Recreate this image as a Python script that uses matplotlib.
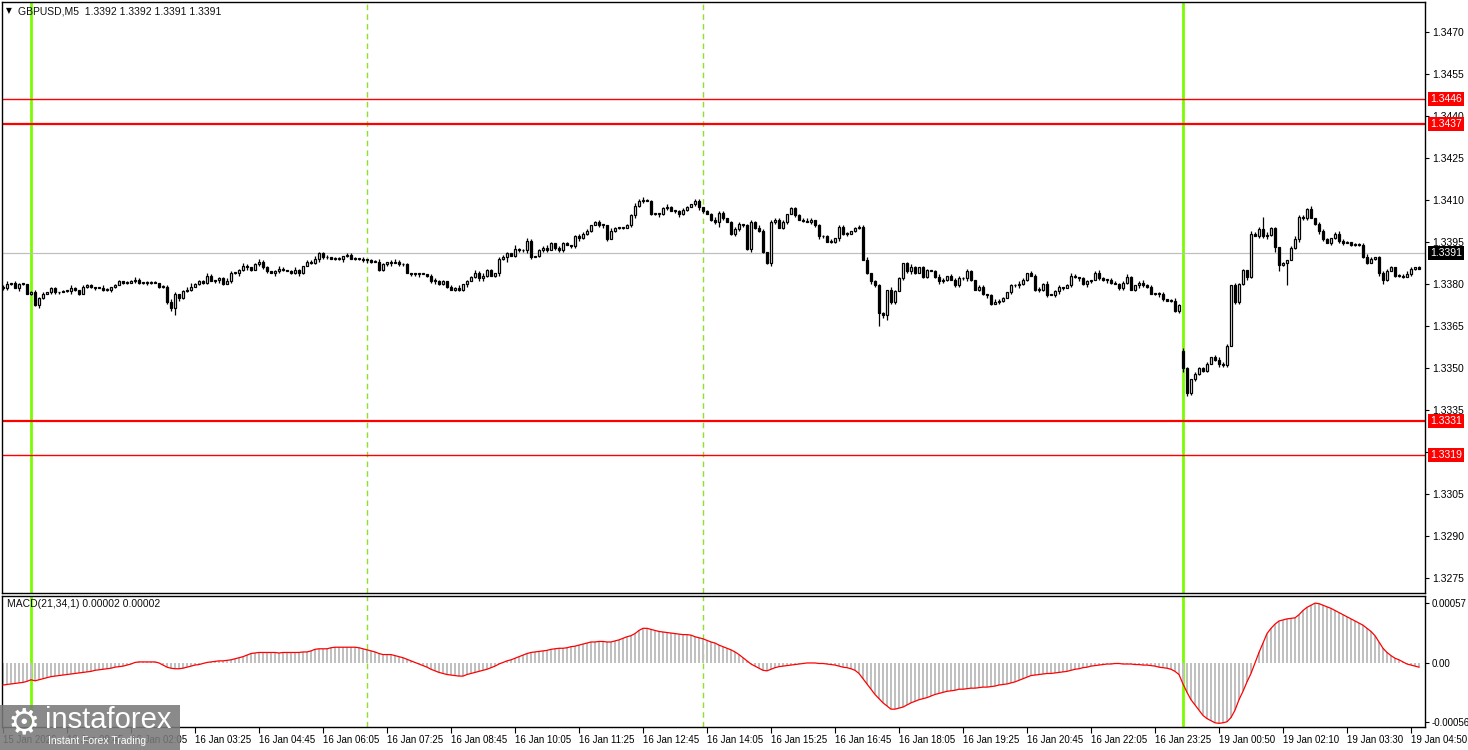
import numpy as np
import matplotlib
matplotlib.use("Agg")
import matplotlib.pyplot as plt
import matplotlib.transforms as mtransforms
from matplotlib.patches import Rectangle

plt.rcParams['font.family'] = ['Liberation Sans', 'DejaVu Sans']

# GBPUSD M5 closes, pips above 1.3300, bar 0 = 15 Jan 23:25
closes = [
    78.5, 80, 80.5, 78.5, 80, 80, 76.5, 77, 72.5, 75,
    76.5, 77, 78.5, 77, 77, 77.5, 77.5, 78.5, 78, 76.5,
    79, 79.5, 79, 78.5, 78.5, 78, 78, 79, 79.5, 81,
    80.5, 80.5, 81, 81.5, 80.5, 80.5, 80.5, 80.5, 80.5, 79,
    79, 73.5, 71.5, 76.5, 75, 77.5, 78, 79, 80, 81,
    80.5, 83, 81, 81.5, 82, 80, 81, 84, 84, 85,
    86.5, 86, 85, 87, 88, 86, 84.5, 84, 84.5, 85.5,
    85, 84.5, 84, 85, 84, 86.5, 88, 87.5, 89, 91,
    89.5, 89.5, 89, 89, 89, 90, 90.5, 89, 89, 89,
    88.5, 88.5, 88, 88, 85, 87, 88, 87.5, 88, 87,
    87, 84, 83.5, 83.5, 83.5, 83.5, 83, 81, 81, 80,
    81, 79, 78, 78.5, 78, 80, 81, 82.5, 84, 82,
    83, 85, 83, 84, 89, 89.5, 91, 90, 92.5, 92,
    92, 95.5, 89.5, 90, 92, 93, 92, 94.5, 93, 92,
    94.5, 94, 93.5, 97, 96.5, 98, 99, 101, 102, 101,
    101, 96, 99, 100, 100, 100, 101, 104.5, 108, 109.5,
    110, 109.5, 105, 105, 105, 107, 107.5, 106, 106, 105,
    106.5, 107.5, 108.5, 109.5, 107.5, 106, 105, 103, 102, 105.5,
    103.5, 102, 98, 99.5, 101.5, 101, 92.5, 102, 100, 99,
    91.5, 87.5, 102, 103, 100, 102, 105, 107, 104.5, 103,
    102.5, 102, 103, 101, 97, 97, 95, 95, 96.5, 100.5,
    98, 98, 99, 100, 100.5, 88.5, 84, 81, 79.5, 69.5,
    69, 78, 73.5, 77.5, 82, 87.5, 84.5, 86, 84, 86,
    82.5, 85, 84.5, 82.5, 81, 81.5, 83, 81.5, 79.5, 82,
    82, 84.5, 81.5, 78, 79, 76.5, 76, 73, 73.5, 74,
    75, 77, 79.5, 79.5, 80, 81.5, 84, 83, 78, 78,
    80, 76, 76, 77.5, 79, 78.5, 79.5, 83, 82.5, 82,
    80, 81, 81.5, 84, 82, 81.5, 81.5, 80.5, 80, 78.5,
    80.5, 82.5, 78, 79.5, 80.5, 79.5, 79, 76.5, 76.5, 76.5,
    74.5, 74, 74, 70.5, 72.5, 50, 41, 46, 48, 50,
    49, 51.5, 54, 53, 51.5, 51, 58, 79.5, 73.5, 80,
    85, 82.5, 98, 97, 99.5, 97, 97.5, 100, 93.3, 86.8,
    87.5, 88.5, 93, 96, 104, 103.5, 106.8, 103.6, 101.5, 99,
    96, 94.5, 96.5, 98, 95.5, 94.5, 95, 94, 94, 94,
    89.7, 87.5, 89, 89.5, 84, 81.5, 84.5, 86, 83, 83,
    82.5, 83.5, 85.5, 86, 85.5,
]
first_opens = {0: 79.0, 295: 56.0}   # session start / Monday gap

# wick lengths, half-pips per bar
up_wick = """
1201110121 1011011210 1110121011 0112101110 1121012311 1210112101 2101211012
1012101121 1201101110 1011210121 1101110121 1011201121 2110121031 1210112101
1101211012 1021101122 2111012101 1102201121 1012101212 1021120111 1210111201
1101112011 1021101210 1101210112 1210110121 1011210112 1201101210 1101210111
1210121101 1012121011 1101211021 1021292110 1012111201 1101211011 1210112101
12101
"""
lo_wick = """
1110210112 1011101211 0111011210 1101112101 1125211101 1101210112 1210111021
1011210112 1101121011 1210111201 1011201121 1101112012 2101213011 1210111021
1011211101 2101110121 1011211012 1101210113 1012111211 1121011010 1011210112
1201101219 2411011210 1101211011 1210112101 1011211012 1101210112 1210112101
1101211012 1011232111 1101211011 1210112144 1901211012 1011210111 1101231011
10110
"""
low_override = {321: 79.5}

# MACD(21,34,1) histogram, units of 1e-5
macd = [
    -21, -20.5, -20, -19.5, -19, -18.5, -17.5, -16, -17, -16,
    -15, -14, -13, -12.5, -12, -11.5, -11, -10.5, -10, -9.5,
    -9, -8.5, -8, -7, -6.5, -6, -5.5, -5, -4, -3.5,
    -3, -2, -1, 0.5, 1, 1, 1, 1, 1, 0,
    -2, -4, -5, -5.5, -5.5, -5, -4, -3, -2, -1.5,
    -0.5, 0.5, 1, 1.5, 2, 2, 2.5, 3, 4, 5,
    6, 7.5, 9, 9.5, 10, 10, 10, 10, 10, 9.5,
    10, 10, 10, 10, 10, 10.5, 10.5, 11.5, 13, 13.5,
    13.5, 13.5, 14.5, 15, 15, 15, 15, 15, 15, 14.5,
    13.5, 12.5, 11.5, 10.5, 9, 8, 8, 8, 7, 6,
    5, 3.5, 2, 0.5, -1, -2.5, -4, -6, -7.5, -9,
    -10, -11, -11.5, -12, -12.5, -12.5, -11, -10, -9, -8,
    -7, -6, -4.5, -3, -1, 0.5, 2, 3, 4.5, 6,
    7.5, 9, 10, 10.5, 11, 11.5, 12, 13, 13.5, 14,
    14, 14.5, 15.5, 16, 17, 18, 19, 20, 20, 20.5,
    20.5, 20, 20, 21, 22, 23.5, 25, 26, 28, 31,
    33, 33, 32, 31, 30, 29.5, 29, 28.5, 28, 27.5,
    27, 27, 26.5, 25, 24, 23, 21.5, 20, 19, 17,
    15.5, 14, 12.5, 10.5, 8, 5, 2, -1, -3, -5,
    -7, -7.5, -6, -4.5, -3.5, -3, -2.5, -2, -1.5, -1,
    -0.5, 0, 0, 0, -0.5, -0.5, -1, -1.5, -2, -3,
    -4, -4.5, -5.5, -7, -10, -15, -20, -25, -30, -34,
    -38, -41, -44, -44, -43, -42, -40, -38, -36.5, -35,
    -34, -33, -31.5, -30, -29, -28, -27, -26.5, -26, -25,
    -25, -24.5, -24, -24, -23.5, -23, -23, -22.5, -22, -21,
    -20.5, -20, -19, -18, -16.5, -15, -13.5, -12, -11.5, -11,
    -10.5, -10, -10, -9.5, -9, -8.5, -8, -7, -6, -5.5,
    -4.5, -4, -3, -2.5, -2, -1.5, -1, -1, -0.5, -0.5,
    -1, -1, -1, -1.5, -1.5, -2, -2, -2.5, -3, -4,
    -4.5, -5, -6, -8, -11, -20, -28, -35, -40, -45,
    -50, -53, -55, -57, -57.5, -57, -56, -52, -45, -35,
    -27, -18, -10, 0, 10, 19, 28, 33, 37, 40,
    41, 42, 42.5, 43, 46, 50, 53, 55, 57, 56.5,
    55, 53.5, 52, 50, 48, 46, 44, 42, 40, 38,
    36, 33, 30, 26, 20, 14, 10, 7, 4.5, 3,
    1, -1, -2, -3, -4,
]

x_ticks = [0, 16, 32, 48, 64, 80, 96, 112, 128, 144, 160, 176, 192, 208,
           224, 240, 256, 272, 288, 304, 320, 336, 352]
x_labels = ["15 Jan 2026", "16 Jan 00:45", "16 Jan 02:05", "16 Jan 03:25",
            "16 Jan 04:45", "16 Jan 06:05", "16 Jan 07:25", "16 Jan 08:45",
            "16 Jan 10:05", "16 Jan 11:25", "16 Jan 12:45", "16 Jan 14:05",
            "16 Jan 15:25", "16 Jan 16:45", "16 Jan 18:05", "16 Jan 19:25",
            "16 Jan 20:45", "16 Jan 22:05", "16 Jan 23:25", "19 Jan 00:50",
            "19 Jan 02:10", "19 Jan 03:30", "19 Jan 04:50"]
price_ticks = [1.3275, 1.3290, 1.3305, 1.3320, 1.3335, 1.3350, 1.3365, 1.3380,
               1.3395, 1.3410, 1.3425, 1.3440, 1.3455, 1.3470]
levels_thick = [1.3437, 1.3331]
levels_thin = [1.3446, 1.3319]
bid = 1.3391
day_bars = [7, 295]
grid_bars = [91, 175]

# ---- build OHLC
c = np.array(closes, dtype=float)
o = np.empty_like(c)
o[1:] = c[:-1]
for k, v in first_opens.items():
    o[k] = v
uw = np.array([int(ch) for ch in "".join(up_wick.split())]) * 0.5
lw = np.array([int(ch) for ch in "".join(lo_wick.split())]) * 0.5
hi = np.maximum(o, c) + uw
lo = np.minimum(o, c) - lw
for k, v in low_override.items():
    lo[k] = v
to_px = lambda p: 1.33 + np.asarray(p) / 1e4
o, c, hi, lo = to_px(o), to_px(c), to_px(hi), to_px(lo)
idx = np.arange(len(c))

W, H = 1468, 750
fig = plt.figure(figsize=(W / 100, H / 100), dpi=100)
fig.patch.set_facecolor('white')
ax = fig.add_axes([2 / W, 1 - 593 / H, 1423 / W, 591 / H])
ax2 = fig.add_axes([2 / W, 1 - 727 / H, 1423 / W, 131 / H])

for a in (ax, ax2):
    a.set_xlim(-0.25, 355.5)
    for s in a.spines.values():
        s.set_color('black')
        s.set_linewidth(1)
    a.yaxis.tick_right()
    a.tick_params(axis='y', length=3, width=0.8, pad=2, labelsize=7, colors='black')
    for b in day_bars:
        a.axvline(b, color='#7cfc00', lw=2, zorder=1)
    for b in grid_bars:
        a.axvline(b, color='#8ee02a', lw=1, ls=(0, (4, 3)), zorder=1)
ax.tick_params(axis='y', labelsize=7.5)

ax.set_ylim(1.3300 - 30.36 / 1e4, 1.3300 + 180.71 / 1e4)
ax.set_xticks([])
ax.set_yticks(price_ticks)
ax.set_yticklabels([f"{p:.4f}" for p in price_ticks])

for y in levels_thick:
    ax.axhline(y, color='red', lw=1.6, zorder=2)
for y in levels_thin:
    ax.axhline(y, color='red', lw=1.0, zorder=2)
ax.axhline(bid, color='#c0c0c0', lw=0.9, zorder=1.5)

# candles
ax.vlines(idx, lo, hi, color='black', lw=0.9, zorder=3)
body_h = np.abs(c - o)
body_h = np.where(body_h < 0.00003, 0.00003, body_h)
bottoms = np.minimum(o, c)
bull = c >= o
ax.bar(idx[bull], body_h[bull], bottom=bottoms[bull], width=0.6,
       facecolor='white', edgecolor='black', linewidth=0.9, zorder=4)
ax.bar(idx[~bull], body_h[~bull], bottom=bottoms[~bull], width=0.6,
       facecolor='black', edgecolor='black', linewidth=0.9, zorder=4)

# price boxes at the right edge
tr = mtransforms.blended_transform_factory(ax.transAxes, ax.transData)
for y in levels_thick + levels_thin:
    ax.text(1.0035, y, f"{y:.4f}", transform=tr, ha='left', va='center',
            fontsize=7.5, color='white', clip_on=False, zorder=10,
            bbox=dict(boxstyle='square,pad=0.2', fc='red', ec='none'))
ax.text(1.0035, bid, f"{bid:.4f}", transform=tr, ha='left', va='center',
        fontsize=7.5, color='white', clip_on=False, zorder=10,
        bbox=dict(boxstyle='square,pad=0.2', fc='black', ec='none'))

# MACD panel
m = np.array(macd) * 1e-5
ax2.set_ylim(-61e-5, 63.8e-5)
ax2.bar(idx, m, width=0.5, color='#c0c0c0', zorder=2)
ax2.plot(idx, m, color='red', lw=0.9, zorder=3)
ax2.set_yticks([0.00057, 0.0, -0.00056])
ax2.set_yticklabels(["0.00057", "0.00", "-0.00056"])
ax2.set_xticks(x_ticks)
ax2.set_xticklabels(x_labels)
ax2.tick_params(axis='x', length=4, width=0.8, pad=2, labelsize=7, colors='black')
for lab in ax2.get_xticklabels():
    lab.set_horizontalalignment('left')

fig.text(6 / W, 1 - 11 / H, "\u25bc", fontsize=5.5, va='center', ha='left',
         family='DejaVu Sans')
fig.text(18 / W, 1 - 11 / H, "GBPUSD,M5  1.3392 1.3392 1.3391 1.3391",
         fontsize=7.5, va='center', ha='left', color='#101010')
fig.text(7 / W, 1 - 604 / H, "MACD(21,34,1) 0.00002 0.00002",
         fontsize=7.5, va='center', ha='left', color='#101010')

# watermark (sits over the first axis labels, as in the source screenshot)
fig.patches.append(Rectangle((0, 0), 180 / W, 45 / H, transform=fig.transFigure,
                             facecolor='#7a7a7a', alpha=0.88, edgecolor='none', zorder=20))
fig.text(24 / W, 1 - 723 / H, "\u2699", fontsize=26, color='white', va='center',
         ha='center', family='DejaVu Sans', zorder=21)
fig.text(45 / W, 1 - 720 / H, "instaforex", fontsize=21, color='white',
         va='center', ha='left', zorder=21)
fig.text(48 / W, 1 - 741 / H, "Instant Forex Trading", fontsize=7.5, color='white',
         va='center', ha='left', zorder=21)

fig.savefig("out.png", dpi=100)
